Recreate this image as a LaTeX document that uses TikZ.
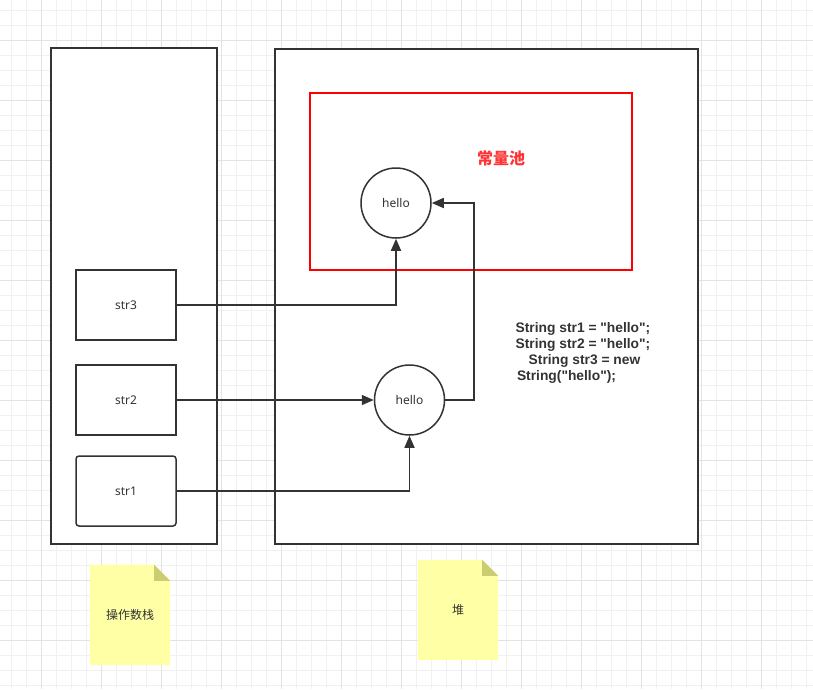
\documentclass[tikz,border=0pt]{standalone}
\usepackage{fontspec}
\setmainfont{Noto Sans CJK SC}
\newfontfamily\latinfont{Noto Sans}
\newfontfamily\codefont{Liberation Sans}
\usetikzlibrary{arrows.meta}
\definecolor{ink}{HTML}{333333}
\definecolor{gridminor}{HTML}{F1F1F1}
\definecolor{gridmajor}{HTML}{E3E3E3}
\definecolor{noteyellow}{HTML}{FFFFA5}
\definecolor{notefold}{HTML}{CCCC70}
\definecolor{poolred}{HTML}{FF0000}
\definecolor{pooltext}{HTML}{FF3333}
\tikzset{
  frame/.style={draw=ink, line width=1.5pt, fill=white},
  cell/.style={draw=ink, line width=1.5pt, fill=white, minimum width=100pt, minimum height=70pt, inner sep=0pt, font=\latinfont\fontsize{12}{14}\selectfont, text=ink},
  obj/.style={circle, draw=ink, line width=1.5pt, fill=white, minimum size=70pt, inner sep=0pt, font=\latinfont\fontsize{12}{14}\selectfont, text=ink},
  conn/.style={draw=ink, line width=1.6pt, -{Triangle[length=12pt,width=10pt]}},
  notetext/.style={minimum width=80pt, minimum height=100pt, inner sep=0pt},
}
\begin{document}
\begin{tikzpicture}[x=1pt,y=-1pt]
\useasboundingbox (0,0) rectangle (813,689);
\fill[white] (0,0) rectangle (813,689);
% background grid
\foreach \i in {0,...,53} {\draw[gridminor, line width=1pt] ({11.7+15*\i},0) -- ({11.7+15*\i},689);}
\foreach \j in {0,...,45} {\draw[gridminor, line width=1pt] (0,{10+15*\j}) -- (813,{10+15*\j});}
\foreach \i in {0,...,13} {\draw[gridmajor, line width=1pt] ({41.7+60*\i},0) -- ({41.7+60*\i},689);}
\foreach \j in {0,...,10} {\draw[gridmajor, line width=1pt] (0,{40+60*\j}) -- (813,{40+60*\j});}

% frames
\node[frame, minimum width=166pt, minimum height=496pt, inner sep=0pt] (stack) at (134,296) {};
\node[frame, minimum width=423pt, minimum height=495pt, inner sep=0pt] (heap) at (486.5,296.5) {};
\node[draw=poolred, line width=1.5pt, fill=white, minimum width=322pt, minimum height=177pt, inner sep=0pt] (pool) at (471,181.5) {};
\node[text=pooltext, font=\fontsize{16}{18}\selectfont\bfseries] (pooltitle) at (501,158) {常量池};

% objects
\node[obj] (h1) at (396,203) {hello};
\node[obj] (h2) at (409.5,400) {hello};

% stack cells
\node[cell] (s3) at (126,305) {str3};
\node[cell] (s2) at (126,400) {str2};
\node[cell, rounded corners=3pt] (s1) at (126,491) {str1};

% code text
\node[align=center, text=ink, font=\codefont\fontsize{13.8}{16}\selectfont\bfseries, inner sep=0pt] (code) at (583,353)
  {String str1 = "hello";\\String str2 = "hello";\\\hspace*{3pt}String str3 = new\\String("hello");\hspace*{33pt}};

% connectors
\draw[conn] (s3.east) -| (h1.south);
\draw[conn] (s2.east) -- (h2.west);
\draw[conn] (s1.east) -| (h2.south);
\draw[conn] (h2.east) -- ++(29,0) |- (h1.east);

% notes
\node[notetext] (n1) at (130,615) {};
\node[notetext] (n2) at (458,610) {};
\foreach \n in {n1,n2} {
  \fill[noteyellow] (\n.north west) -- ([xshift=-16pt]\n.north east) -- ([yshift=-16pt]\n.north east) -- (\n.south east) -- (\n.south west) -- cycle;
  \fill[notefold] ([xshift=-16pt]\n.north east) -- ([xshift=-16pt,yshift=-16pt]\n.north east) -- ([yshift=-16pt]\n.north east) -- cycle;
}
\node[font=\fontsize{12}{14}\selectfont, text=ink] (n1t) at (n1) {操作数栈};
\node[font=\fontsize{12}{14}\selectfont, text=ink] (n2t) at (n2) {堆};
\end{tikzpicture}
\end{document}
